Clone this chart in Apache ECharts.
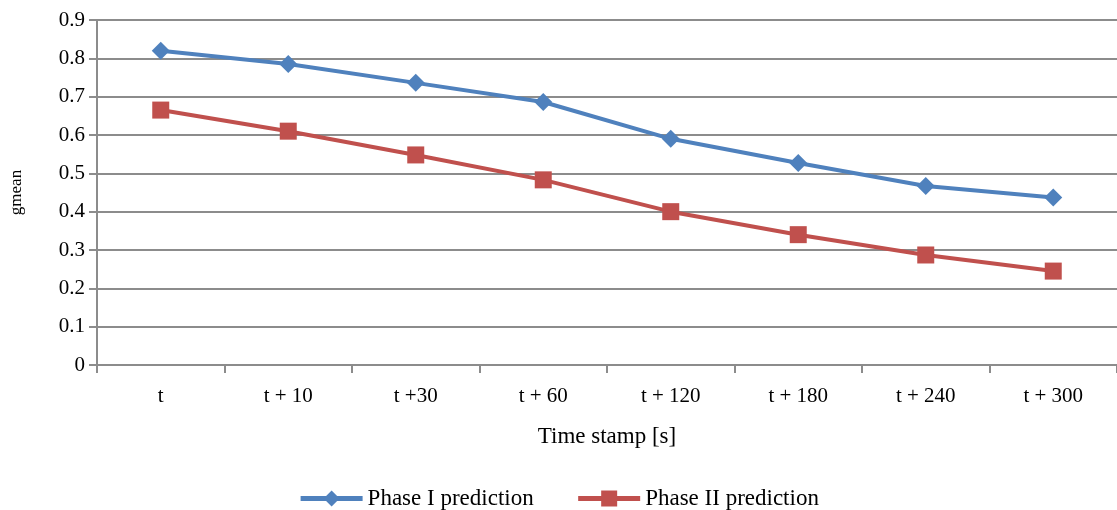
<!DOCTYPE html>
<html><head><meta charset="utf-8">
<script src="https://cdn.jsdelivr.net/npm/echarts@6/dist/echarts.min.js"></script>
<style>html,body{margin:0;padding:0;background:#fff}#c{width:1117px;height:510px}</style>
</head><body><div id="c"></div>
<script>
const categories = ['t', 't + 10', 't +30', 't + 60', 't + 120', 't + 180', 't + 240', 't + 300'];
const phase1 = [0.82, 0.785, 0.736, 0.686, 0.59, 0.527, 0.467, 0.437];
const phase2 = [0.665, 0.61, 0.548, 0.483, 0.4, 0.34, 0.287, 0.245];
const seriesNames = ['Phase I prediction', 'Phase II prediction'];
const font = 'Liberation Serif';
const chart = echarts.init(document.getElementById('c'));
chart.setOption({
  animation: false,
  grid: {left: 96, top: 20, width: 1024, height: 345, containLabel: false},
  legend: {
    top: 482, left: 'center', itemWidth: 62, itemHeight: 20, itemGap: 42,
    textStyle: {fontFamily: font, fontSize: 23, color: '#000'},
    lineStyle: {width: 5},
    data: seriesNames
  },
  xAxis: {
    type: 'category', data: categories, boundaryGap: true,
    name: 'Time stamp [s]', nameLocation: 'middle', nameGap: 60,
    nameTextStyle: {fontFamily: font, fontSize: 23, color: '#000'},
    axisLine: {lineStyle: {color: '#8c8c8c', width: 2}},
    axisTick: {show: true, alignWithLabel: false, length: 8, lineStyle: {color: '#8c8c8c', width: 2}},
    axisLabel: {fontFamily: font, fontSize: 21, color: '#000', margin: 21}
  },
  yAxis: {
    type: 'value', min: 0, max: 0.9, interval: 0.1,
    name: 'gmean', nameLocation: 'middle', nameGap: 72, nameRotate: 90,
    nameTextStyle: {fontFamily: font, fontSize: 17, color: '#000'},
    axisLine: {show: true, lineStyle: {color: '#8c8c8c', width: 2}},
    axisTick: {show: true, length: 8, lineStyle: {color: '#8c8c8c', width: 2}},
    axisLabel: {fontFamily: font, fontSize: 21, color: '#000', margin: 12,
      formatter: v => v === 0 ? '0' : v.toFixed(1)},
    splitLine: {lineStyle: {color: '#8c8c8c', width: 2}}
  },
  series: [
    {name: seriesNames[0], type: 'line', data: phase1, symbol: 'diamond', symbolSize: 18,
     color: '#4f81bd', lineStyle: {width: 4, color: '#4f81bd'}, itemStyle: {color: '#4f81bd'}},
    {name: seriesNames[1], type: 'line', data: phase2, symbol: 'rect', symbolSize: 17,
     color: '#c0504d', lineStyle: {width: 4, color: '#c0504d'}, itemStyle: {color: '#c0504d'}}
  ]
});
</script></body></html>
